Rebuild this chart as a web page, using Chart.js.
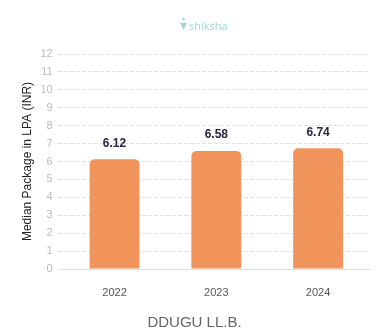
<!DOCTYPE html>
<html lang="en">
<head>
<meta charset="UTF-8">
<title>DDUGU LL.B.</title>
<script src="https://cdn.jsdelivr.net/npm/chart.js"></script>
<style>
    body { margin: 0; background: #fff; }
    #wrap { width: 382px; height: 336px; }
</style>
</head>
<body>
<div id="wrap"><canvas id="myChart" width="382" height="336"></canvas></div>
<script>
    // data
    var years = ['2022', '2023', '2024'];
    var medianPackage = [6.12, 6.58, 6.74];
    var yTicks = [0, 1, 2, 3, 4, 5, 6, 7, 8, 9, 10, 11, 12];

    // logo on top
    var logoPlugin = {
        id: 'logo',
        afterDraw: function(chart) {
            var ctx = chart.ctx;
            ctx.save();
            ctx.fillStyle = '#9ad6da';
            // small icon
            ctx.beginPath();
            ctx.moveTo(180, 23);
            ctx.lineTo(187, 23);
            ctx.lineTo(183.5, 30);
            ctx.closePath();
            ctx.fill();
            ctx.beginPath();
            ctx.arc(183.5, 19, 1.3, 0, Math.PI * 2);
            ctx.fill();
            ctx.font = '11px "Open Sans", sans-serif';
            ctx.textBaseline = 'middle';
            ctx.fillText('shiksha', 189, 27);
            ctx.restore();
        }
    };

    // value labels above bars
    var valuePlugin = {
        id: 'values',
        afterDatasetsDraw: function(chart) {
            var ctx = chart.ctx;
            var meta = chart.getDatasetMeta(0);
            ctx.save();
            ctx.fillStyle = '#2a2540';
            ctx.font = 'bold 12px "Liberation Sans", Arial, sans-serif';
            ctx.textAlign = 'center';
            ctx.textBaseline = 'middle';
            meta.data.forEach(function(bar, i) {
                ctx.fillText(medianPackage[i].toFixed(2), bar.x, bar.y - 16);
            });
            ctx.restore();
        }
    };

    var ctx = document.getElementById('myChart').getContext('2d');
    var myChart = new Chart(ctx, {
        type: 'bar',
        data: {
            labels: years,
            datasets: [{
                data: medianPackage,
                backgroundColor: '#f0945c',
                borderRadius: { topLeft: 5, topRight: 5 },
                borderSkipped: 'bottom',
                categoryPercentage: 1,
                barPercentage: 0.49
            }]
        },
        options: {
            responsive: false,
            animation: false,
            layout: { padding: { top: 54, right: 13, left: 20, bottom: 3 } },
            plugins: {
                legend: { display: false },
                tooltip: { enabled: false },
                title: {
                    display: true,
                    position: 'bottom',
                    text: 'DDUGU LL.B.',
                    color: '#666',
                    font: { family: '"Liberation Sans", Arial, sans-serif', size: 15, weight: 'normal' },
                    padding: { top: 0, bottom: 1 }
                }
            },
            scales: {
                x: {
                    grid: { display: false, drawTicks: false, tickLength: 0 },
                    border: { color: '#ddd' },
                    ticks: {
                        color: '#555',
                        font: { family: '"Liberation Sans", Arial, sans-serif', size: 11 },
                        padding: 17
                    },
                    afterFit: function(axis) {
                        axis.height = 45;
                    }
                },
                y: {
                    min: 0,
                    max: 12,
                    afterBuildTicks: function(axis) {
                        axis.ticks = yTicks.map(function(v) { return { value: v }; });
                    },
                    border: { display: true, color: 'rgba(0,0,0,0)', dash: [4, 2] },
                    grid: { color: '#e0e0e0', tickLength: 6 },
                    ticks: {
                        color: '#bbb',
                        autoSkip: false,
                        font: { family: '"Liberation Sans", Arial, sans-serif', size: 11 },
                        padding: 5
                    },
                    title: {
                        display: true,
                        text: 'Median Package in LPA (INR)',
                        color: '#222',
                        font: { family: '"Liberation Sans", Arial, sans-serif', size: 12 },
                        padding: { top: 0, bottom: 1 }
                    }
                }
            }
        },
        plugins: [logoPlugin, valuePlugin]
    });
</script>
</body>
</html>
